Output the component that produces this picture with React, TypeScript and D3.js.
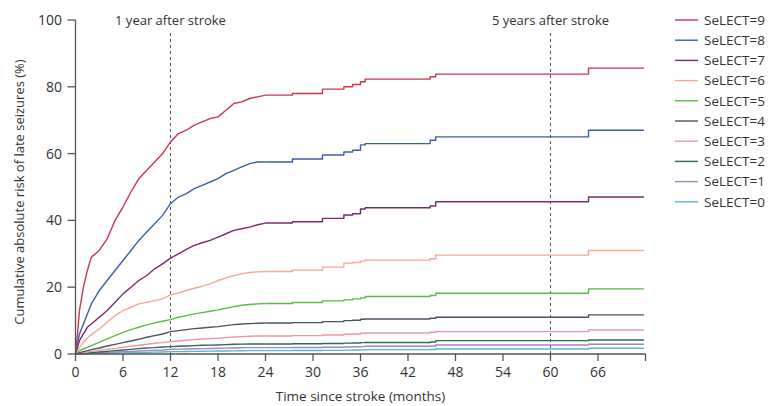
import React from "react";
import * as d3 from "d3";

// Time points (months) at which the curves are read
const times = [0, 0.25, 0.5, 1, 1.5, 2, 3, 4, 5, 6, 7, 8, 9, 10, 11, 12, 13, 14, 15, 16, 17, 18, 19, 20, 21, 22, 23, 24, 27.4, 31.2, 33.9, 35, 36, 36.6, 44.8, 45.5, 64.8, 71.8];
// index from which the curves are drawn as clear steps
const stepFrom = 27;

const select9 = [0, 6, 13, 20, 25, 29, 31, 34.5, 40, 44, 48.5, 52.5, 55, 57.5, 60, 63.5, 66, 67, 68.5, 69.5, 70.5, 71, 73, 75, 75.5, 76.5, 77, 77.5, 78, 79.3, 80, 80.7, 81.5, 82.3, 83, 83.8, 85.6, 85.6];
const select8 = [0, 3, 6, 9, 12, 15, 19, 22, 25, 28, 31, 34, 36.5, 39, 41.5, 45, 47, 48, 49.5, 50.5, 51.5, 52.5, 54, 55, 56, 57, 57.5, 57.5, 58.4, 59.6, 60.5, 61, 62.6, 63, 64, 65, 67, 67];
const select7 = [0, 2, 4, 6, 8, 9, 11, 13, 15.5, 18, 20, 22, 23.5, 25.5, 27, 28.7, 30, 31.3, 32.5, 33.3, 34, 35, 36, 37, 37.5, 38, 38.7, 39.2, 39.6, 40.6, 41.6, 42, 43.4, 43.8, 44.3, 45.6, 47, 47];
const select6 = [0, 1, 2, 3.5, 4.8, 5.8, 7.5, 9.5, 11.5, 13, 14, 15, 15.5, 16, 16.5, 17.7, 18.3, 19, 19.7, 20.3, 21, 22, 22.8, 23.5, 24, 24.4, 24.6, 24.7, 25.1, 26, 27.2, 27.4, 27.8, 28.1, 28.5, 29.6, 31, 31];
const select5 = [0, 0.5, 1, 1.5, 2, 2.5, 3.5, 4.5, 5.5, 6.5, 7.3, 8, 8.7, 9.3, 9.8, 10.3, 11, 11.5, 12, 12.4, 12.8, 13.2, 13.7, 14.2, 14.6, 14.8, 15, 15.1, 15.4, 15.9, 16.2, 16.5, 16.8, 17.2, 17.5, 18.2, 19.5, 19.5];
const select4 = [0, 0.2, 0.4, 0.7, 1, 1.3, 1.8, 2.4, 2.9, 3.4, 3.9, 4.4, 5, 5.5, 6, 6.7, 7, 7.3, 7.6, 7.8, 8, 8.2, 8.5, 8.8, 9, 9.1, 9.2, 9.3, 9.4, 9.7, 10, 10.1, 10.4, 10.5, 10.7, 11, 11.7, 11.7];
const select3 = [0, 0.1, 0.2, 0.4, 0.6, 0.8, 1.1, 1.4, 1.7, 2, 2.3, 2.6, 2.9, 3.2, 3.4, 3.7, 3.9, 4.1, 4.3, 4.5, 4.6, 4.7, 4.9, 5.1, 5.2, 5.3, 5.4, 5.4, 5.5, 5.7, 5.9, 6, 6.2, 6.3, 6.5, 6.7, 7.2, 7.2];
const select2 = [0, 0.05, 0.1, 0.2, 0.3, 0.4, 0.6, 0.8, 1, 1.2, 1.4, 1.6, 1.8, 1.9, 2.1, 2.2, 2.3, 2.4, 2.5, 2.6, 2.65, 2.7, 2.8, 2.9, 2.95, 3, 3, 3, 3.05, 3.15, 3.25, 3.3, 3.4, 3.45, 3.6, 4.0, 4.2, 4.2];
const select1 = [0, 0.03, 0.06, 0.12, 0.18, 0.24, 0.35, 0.45, 0.6, 0.7, 0.8, 0.9, 1.0, 1.1, 1.2, 1.4, 1.45, 1.5, 1.55, 1.6, 1.65, 1.7, 1.75, 1.8, 1.85, 1.9, 1.9, 1.9, 1.95, 2.0, 2.1, 2.15, 2.2, 2.3, 2.4, 2.7, 2.9, 2.9];
const select0 = [0, 0.02, 0.04, 0.07, 0.1, 0.13, 0.2, 0.25, 0.3, 0.35, 0.4, 0.45, 0.5, 0.55, 0.6, 0.7, 0.72, 0.75, 0.8, 0.83, 0.86, 0.9, 0.92, 0.95, 0.97, 1.0, 1.0, 1.0, 1.05, 1.1, 1.15, 1.2, 1.25, 1.3, 1.35, 1.5, 1.7, 1.7];

const seriesNames = ["SeLECT=9", "SeLECT=8", "SeLECT=7", "SeLECT=6", "SeLECT=5", "SeLECT=4", "SeLECT=3", "SeLECT=2", "SeLECT=1", "SeLECT=0"];
const seriesValues = [select9, select8, select7, select6, select5, select4, select3, select2, select1, select0];
const seriesColors = ["#c8364f", "#3b5fa8", "#7a2a6c", "#f5a894", "#5cb847", "#4a5464", "#ee95aa", "#2f6a55", "#9c88c6", "#5cb2d8"];

const xTicks = [0, 6, 12, 18, 24, 30, 36, 42, 48, 54, 60, 66];
const yTicks = [0, 20, 40, 60, 80, 100];
const markers = [{ t: 12, label: "1 year after stroke" }, { t: 60, label: "5 years after stroke" }];

const xLabel = "Time since stroke (months)";
const yLabel = "Cumulative absolute risk of late seizures (%)";

const W = 776, H = 406;
const FONT = "'Open Sans', 'Noto Sans', sans-serif";
const TXT = "#333";
const AX = "#555";

export default function App() {
  const x = d3.scaleLinear().domain([0, 72]).range([75.5, 645.5]);
  const y = d3.scaleLinear().domain([0, 100]).range([354, 20]);

  const lineLin = d3.line<[number, number]>().x(d => x(d[0])).y(d => y(d[1])).curve(d3.curveLinear);
  const lineStep = d3.line<[number, number]>().x(d => x(d[0])).y(d => y(d[1])).curve(d3.curveStepAfter);

  return (
    <svg width={W} height={H} style={{ position: "absolute", left: 0, top: 0, background: "#fff" }} fontFamily={FONT}>
      {/* dashed markers */}
      {markers.map(m => (
        <g key={m.t}>
          <line x1={x(m.t)} x2={x(m.t)} y1={33} y2={y(0)} stroke={AX} strokeWidth={1} strokeDasharray="3,3" />
          <text x={x(m.t)} y={25} textAnchor="middle" fontSize={13} fill={TXT}>{m.label}</text>
        </g>
      ))}

      {/* curves, drawn bottom series first */}
      {seriesValues.map((vals, i) => ({ vals, i })).reverse().map(({ vals, i }) => {
        const pts: [number, number][] = times.map((t, k) => [t, vals[k]]);
        const early = pts.slice(0, stepFrom + 1);
        const late = pts.slice(stepFrom);
        return (
          <g key={i} fill="none" stroke={seriesColors[i]} strokeWidth={1.4} strokeLinejoin="round">
            <path d={lineLin(early) || ""} />
            <path d={lineStep(late) || ""} />
          </g>
        );
      })}

      {/* y axis */}
      <line x1={x(0)} x2={x(0)} y1={y(100)} y2={y(0)} stroke={AX} strokeWidth={1.3} />
      {yTicks.map(v => (
        <g key={v}>
          <line x1={x(0) - 8} x2={x(0)} y1={y(v)} y2={y(v)} stroke={AX} strokeWidth={1.3} />
          <text x={62} y={y(v)} dy="0.36em" textAnchor="end" fontSize={14} fill={TXT}>{v}</text>
        </g>
      ))}

      {/* x axis */}
      <line x1={x(0)} x2={x(72)} y1={y(0)} y2={y(0)} stroke={AX} strokeWidth={1.3} />
      {xTicks.map(v => (
        <g key={v}>
          <line x1={x(v)} x2={x(v)} y1={y(0)} y2={y(0) + 7} stroke={AX} strokeWidth={1.3} />
          <text x={x(v)} y={377} textAnchor="middle" fontSize={14} fill={TXT}>{v}</text>
        </g>
      ))}
      <line x1={x(72)} x2={x(72)} y1={y(0)} y2={y(0) + 7} stroke={AX} strokeWidth={1.3} />

      <text x={x(36)} y={401} textAnchor="middle" fontSize={13.5} fill={TXT}>{xLabel}</text>
      <text transform={`translate(24, ${y(48.5)}) rotate(-90)`} textAnchor="middle" fontSize={13} fill={TXT}>{yLabel}</text>

      {/* legend */}
      {seriesNames.map((name, i) => (
        <g key={name} transform={`translate(675, ${20 + i * 20.2})`}>
          <line x1={0} x2={23} y1={0} y2={0} stroke={seriesColors[i]} strokeWidth={1.4} />
          <text x={29} y={0} dy="0.35em" fontSize={13.5} fill={TXT}>{name}</text>
        </g>
      ))}
    </svg>
  );
}
